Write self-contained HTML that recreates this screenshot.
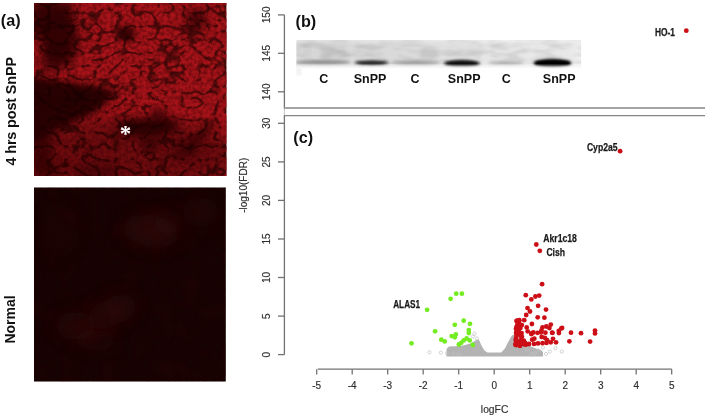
<!DOCTYPE html>
<html lang="en"><head><meta charset="utf-8"><title>Figure</title>
<style>html,body{margin:0;padding:0;background:#fff}body{width:709px;height:416px;overflow:hidden}svg{display:block}</style>
</head><body>
<svg width="709" height="416" viewBox="0 0 709 416">
<defs>
<filter id="tex" x="0" y="0" width="100%" height="100%" color-interpolation-filters="sRGB">
  <feTurbulence type="turbulence" baseFrequency="0.06 0.075" numOctaves="2" seed="11" result="n"/>
  <feColorMatrix in="n" type="matrix" values="0 0 0 0 0  0 0 0 0 0  0 0 0 0 0  7 0 0 0 -0.5" result="a"/>
  <feFlood flood-color="#a61419" result="f"/>
  <feComposite in="f" in2="a" operator="in" result="c"/>
  <feGaussianBlur in="c" stdDeviation="0.5"/>
</filter>
<filter id="tex2" x="0" y="0" width="100%" height="100%" color-interpolation-filters="sRGB">
  <feTurbulence type="fractalNoise" baseFrequency="0.05" numOctaves="2" seed="4" result="n"/>
  <feColorMatrix in="n" type="matrix" values="0 0 0 0 0  0 0 0 0 0  0 0 0 0 0  3 0 0 0 -1.35" result="a"/>
  <feFlood flood-color="#3c0a0a" result="f"/>
  <feComposite in="f" in2="a" operator="in"/>
</filter>
<filter id="grain" x="0" y="0" width="100%" height="100%" color-interpolation-filters="sRGB">
  <feTurbulence type="fractalNoise" baseFrequency="0.28" numOctaves="2" seed="8" result="n"/>
  <feColorMatrix in="n" type="matrix" values="0 0 0 0 0.12  0 0 0 0 0.01  0 0 0 0 0.01  2.6 0 0 0 -0.95"/>
</filter>
<filter id="gn" x="0" y="0" width="100%" height="100%" color-interpolation-filters="sRGB">
  <feTurbulence type="fractalNoise" baseFrequency="0.05 0.14" numOctaves="2" seed="3" result="n"/>
  <feColorMatrix in="n" type="matrix" values="0 0 0 0 0  0 0 0 0 0  0 0 0 0 0  2.4 0 0 0 -0.9"/>
</filter>
<filter id="b3" x="-60%" y="-60%" width="220%" height="220%"><feGaussianBlur stdDeviation="3"/></filter>
<filter id="b5" x="-80%" y="-80%" width="260%" height="260%"><feGaussianBlur stdDeviation="5"/></filter>
<filter id="b8" x="-80%" y="-80%" width="260%" height="260%"><feGaussianBlur stdDeviation="8"/></filter>
<filter id="b1" x="-20%" y="-50%" width="140%" height="200%"><feGaussianBlur stdDeviation="1.1"/></filter>
<filter id="b2" x="-20%" y="-50%" width="140%" height="200%"><feGaussianBlur stdDeviation="1.8"/></filter>
<filter id="soft" x="-10%" y="-10%" width="120%" height="120%"><feGaussianBlur stdDeviation="0.35"/></filter>
<clipPath id="ca"><rect x="34" y="3" width="192.4" height="173"/></clipPath>
<clipPath id="cb"><rect x="34" y="187.4" width="191.8" height="194.1"/></clipPath>
<clipPath id="cg"><rect x="296.2" y="40" width="285" height="28.2"/></clipPath>
<linearGradient id="gelbg" x1="0" x2="1" y1="0" y2="0">
 <stop offset="0" stop-color="#dedede"/><stop offset="0.35" stop-color="#e2e2e2"/><stop offset="0.7" stop-color="#e9e9e9"/><stop offset="1" stop-color="#eeeeee"/>
</linearGradient>
<linearGradient id="gelfade" x1="0" x2="0" y1="0" y2="1">
 <stop offset="0" stop-color="#fff" stop-opacity="0.25"/><stop offset="0.25" stop-color="#fff" stop-opacity="0"/><stop offset="0.84" stop-color="#fff" stop-opacity="0"/><stop offset="1" stop-color="#fff" stop-opacity="0.85"/>
</linearGradient>
</defs>
<g clip-path="url(#ca)">
<rect x="34" y="3" width="193" height="173" fill="#500a0b"/>
<rect x="34" y="3" width="193" height="173" filter="url(#tex)"/>
<rect x="34" y="3" width="193" height="173" filter="url(#grain)" opacity="0.4"/>
<ellipse cx="130" cy="155" rx="110" ry="36" transform="rotate(0 130 155)" fill="#230304" opacity="0.45" filter="url(#b8)"/>
<ellipse cx="48" cy="60" rx="10" ry="14" transform="rotate(0 48 60)" fill="#230304" opacity="0.5" filter="url(#b5)"/>
<ellipse cx="42" cy="150" rx="10" ry="26" transform="rotate(0 42 150)" fill="#230304" opacity="0.75" filter="url(#b5)"/>
<ellipse cx="47" cy="172" rx="16" ry="9" transform="rotate(0 47 172)" fill="#230304" opacity="0.5" filter="url(#b5)"/>
<ellipse cx="127.5" cy="34" rx="8" ry="8" transform="rotate(0 127.5 34)" fill="#230304" opacity="0.9" filter="url(#b3)"/>
<ellipse cx="196" cy="19" rx="11" ry="10" transform="rotate(0 196 19)" fill="#230304" opacity="0.75" filter="url(#b5)"/>
<ellipse cx="148" cy="127" rx="32" ry="8" transform="rotate(-3 148 127)" fill="#230304" opacity="1" filter="url(#b5)"/>
<ellipse cx="152" cy="128" rx="22" ry="5" transform="rotate(-3 152 128)" fill="#230304" opacity="0.8" filter="url(#b3)"/>
<ellipse cx="159" cy="115" rx="8" ry="7" transform="rotate(0 159 115)" fill="#230304" opacity="0.6" filter="url(#b3)"/>
<ellipse cx="150" cy="144" rx="10" ry="8" transform="rotate(0 150 144)" fill="#230304" opacity="0.6" filter="url(#b3)"/>
<ellipse cx="198" cy="138" rx="26" ry="3.2" transform="rotate(-44 198 138)" fill="#230304" opacity="0.9" filter="url(#b3)"/>
<ellipse cx="96" cy="172" rx="24" ry="8" transform="rotate(0 96 172)" fill="#230304" opacity="0.5" filter="url(#b5)"/>
<ellipse cx="185" cy="152" rx="16" ry="9" transform="rotate(0 185 152)" fill="#230304" opacity="0.4" filter="url(#b5)"/>
<path d="M30 76 L60 81 L96 86 L119 92 L96 112 L64 127 L30 146 Z" fill="#1c0303" opacity="0.96" filter="url(#b3)"/>
<path d="M30 84 L70 90 L100 94 L80 108 L50 120 L30 130 Z" fill="#1c0303" opacity="0.6" filter="url(#b3)"/>
<path d="M30 0 L70 0 L79 36 L74 62 L52 70 L40 40 L30 30 Z" fill="#1c0303" opacity="0.85" filter="url(#b5)"/>
<ellipse cx="59" cy="23" rx="9" ry="8" fill="#1c0303" opacity="0.6" filter="url(#b3)"/>
<ellipse cx="55" cy="47" rx="9" ry="7" fill="#1c0303" opacity="0.6" filter="url(#b3)"/>
<rect x="34" y="3" width="193" height="173" filter="url(#tex)" opacity="0.08"/>
</g>
<text x="125.6" y="140.9" font-family="DejaVu Sans, "Liberation Sans", Arial, sans-serif" font-weight="bold" font-size="23" fill="#fff" text-anchor="middle">*</text>
<g clip-path="url(#cb)">
<rect x="34" y="187" width="192" height="195" fill="#170303"/>
<rect x="34" y="187" width="192" height="195" filter="url(#tex2)" opacity="0.18"/>
<rect x="34" y="187" width="192" height="195" filter="url(#grain)" opacity="0.25"/>
<ellipse cx="151" cy="231" rx="28" ry="16" transform="rotate(10 151 231)" fill="#3a0a0a" opacity="0.5" filter="url(#b8)"/>
<ellipse cx="168" cy="222" rx="14" ry="12" transform="rotate(0 168 222)" fill="#3a0a0a" opacity="0.3" filter="url(#b8)"/>
<ellipse cx="112" cy="312" rx="26" ry="14" transform="rotate(-25 112 312)" fill="#3a0a0a" opacity="0.45" filter="url(#b8)"/>
<ellipse cx="76" cy="326" rx="20" ry="14" transform="rotate(0 76 326)" fill="#3a0a0a" opacity="0.4" filter="url(#b8)"/>
<ellipse cx="95" cy="340" rx="22" ry="10" transform="rotate(0 95 340)" fill="#3a0a0a" opacity="0.3" filter="url(#b8)"/>
<ellipse cx="200" cy="212" rx="18" ry="14" transform="rotate(0 200 212)" fill="#3a0a0a" opacity="0.3" filter="url(#b8)"/>
<ellipse cx="60" cy="230" rx="18" ry="28" transform="rotate(0 60 230)" fill="#3a0a0a" opacity="0.15" filter="url(#b8)"/>
</g>
<text x="0.8" y="26.4" font-family='"Liberation Sans", Arial, sans-serif' font-weight="bold" font-size="16.2" fill="#111">(a)</text>
<text transform="translate(15.6 165.5) rotate(-90)" textLength="108.6" lengthAdjust="spacing" font-family='"Liberation Sans", Arial, sans-serif' font-weight="bold" font-size="14.4" fill="#111">4 hrs post SnPP</text>
<text transform="translate(15 343.6) rotate(-90)" font-family='"Liberation Sans", Arial, sans-serif' font-weight="bold" font-size="14" fill="#111">Normal</text>
<g stroke="#727272" stroke-width="1.3" fill="none">
<path d="M284.4 14.9V107.5"/>
<path d="M284.4 115.5V354.6"/>
<path d="M278 14.9H284.4"/>
<path d="M278 53.3H284.4"/>
<path d="M278 91.8H284.4"/>
<path d="M278 354.6H284.4"/>
<path d="M278 316.1H284.4"/>
<path d="M278 277.5H284.4"/>
<path d="M278 239.0H284.4"/>
<path d="M278 200.4H284.4"/>
<path d="M278 161.9H284.4"/>
<path d="M278 123.3H284.4"/>
<path d="M317.7 369.2H671.8"/>
<path d="M316.7 369.2V374.4"/>
<path d="M352.2 369.2V374.4"/>
<path d="M387.7 369.2V374.4"/>
<path d="M423.2 369.2V374.4"/>
<path d="M458.7 369.2V374.4"/>
<path d="M494.2 369.2V374.4"/>
<path d="M529.7 369.2V374.4"/>
<path d="M565.2 369.2V374.4"/>
<path d="M600.7 369.2V374.4"/>
<path d="M636.2 369.2V374.4"/>
<path d="M671.7 369.2V374.4"/>
</g>
<path d="M284.4 107.5V115.5" stroke="#c8c8c8" stroke-width="1.1"/>
<path d="M283.8 108H705" stroke="#858585" stroke-width="1.7"/>
<path d="M283.8 115.6H705" stroke="#858585" stroke-width="1.4"/>
<text transform="translate(270.1 14.9) rotate(-90)" text-anchor="middle" font-family='"Liberation Sans", Arial, sans-serif' font-size="10" fill="#2e2e2e" stroke="#2e2e2e" stroke-width="0.15">150</text>
<text transform="translate(270.1 53.3) rotate(-90)" text-anchor="middle" font-family='"Liberation Sans", Arial, sans-serif' font-size="10" fill="#2e2e2e" stroke="#2e2e2e" stroke-width="0.15">145</text>
<text transform="translate(270.1 91.8) rotate(-90)" text-anchor="middle" font-family='"Liberation Sans", Arial, sans-serif' font-size="10" fill="#2e2e2e" stroke="#2e2e2e" stroke-width="0.15">140</text>
<text transform="translate(270.1 354.6) rotate(-90)" text-anchor="middle" font-family='"Liberation Sans", Arial, sans-serif' font-size="10" fill="#2e2e2e" stroke="#2e2e2e" stroke-width="0.15">0</text>
<text transform="translate(270.1 316.1) rotate(-90)" text-anchor="middle" font-family='"Liberation Sans", Arial, sans-serif' font-size="10" fill="#2e2e2e" stroke="#2e2e2e" stroke-width="0.15">5</text>
<text transform="translate(270.1 277.5) rotate(-90)" text-anchor="middle" font-family='"Liberation Sans", Arial, sans-serif' font-size="10" fill="#2e2e2e" stroke="#2e2e2e" stroke-width="0.15">10</text>
<text transform="translate(270.1 239.0) rotate(-90)" text-anchor="middle" font-family='"Liberation Sans", Arial, sans-serif' font-size="10" fill="#2e2e2e" stroke="#2e2e2e" stroke-width="0.15">15</text>
<text transform="translate(270.1 200.4) rotate(-90)" text-anchor="middle" font-family='"Liberation Sans", Arial, sans-serif' font-size="10" fill="#2e2e2e" stroke="#2e2e2e" stroke-width="0.15">20</text>
<text transform="translate(270.1 161.9) rotate(-90)" text-anchor="middle" font-family='"Liberation Sans", Arial, sans-serif' font-size="10" fill="#2e2e2e" stroke="#2e2e2e" stroke-width="0.15">25</text>
<text transform="translate(270.1 123.3) rotate(-90)" text-anchor="middle" font-family='"Liberation Sans", Arial, sans-serif' font-size="10" fill="#2e2e2e" stroke="#2e2e2e" stroke-width="0.15">30</text>
<text x="316.7" y="389.3" text-anchor="middle" font-family='"Liberation Sans", Arial, sans-serif' font-size="10" fill="#2e2e2e" stroke="#2e2e2e" stroke-width="0.15">-5</text>
<text x="352.2" y="389.3" text-anchor="middle" font-family='"Liberation Sans", Arial, sans-serif' font-size="10" fill="#2e2e2e" stroke="#2e2e2e" stroke-width="0.15">-4</text>
<text x="387.7" y="389.3" text-anchor="middle" font-family='"Liberation Sans", Arial, sans-serif' font-size="10" fill="#2e2e2e" stroke="#2e2e2e" stroke-width="0.15">-3</text>
<text x="423.2" y="389.3" text-anchor="middle" font-family='"Liberation Sans", Arial, sans-serif' font-size="10" fill="#2e2e2e" stroke="#2e2e2e" stroke-width="0.15">-2</text>
<text x="458.7" y="389.3" text-anchor="middle" font-family='"Liberation Sans", Arial, sans-serif' font-size="10" fill="#2e2e2e" stroke="#2e2e2e" stroke-width="0.15">-1</text>
<text x="494.2" y="389.3" text-anchor="middle" font-family='"Liberation Sans", Arial, sans-serif' font-size="10" fill="#2e2e2e" stroke="#2e2e2e" stroke-width="0.15">0</text>
<text x="529.7" y="389.3" text-anchor="middle" font-family='"Liberation Sans", Arial, sans-serif' font-size="10" fill="#2e2e2e" stroke="#2e2e2e" stroke-width="0.15">1</text>
<text x="565.2" y="389.3" text-anchor="middle" font-family='"Liberation Sans", Arial, sans-serif' font-size="10" fill="#2e2e2e" stroke="#2e2e2e" stroke-width="0.15">2</text>
<text x="600.7" y="389.3" text-anchor="middle" font-family='"Liberation Sans", Arial, sans-serif' font-size="10" fill="#2e2e2e" stroke="#2e2e2e" stroke-width="0.15">3</text>
<text x="636.2" y="389.3" text-anchor="middle" font-family='"Liberation Sans", Arial, sans-serif' font-size="10" fill="#2e2e2e" stroke="#2e2e2e" stroke-width="0.15">4</text>
<text x="671.7" y="389.3" text-anchor="middle" font-family='"Liberation Sans", Arial, sans-serif' font-size="10" fill="#2e2e2e" stroke="#2e2e2e" stroke-width="0.15">5</text>
<text x="494.6" y="412.6" text-anchor="middle" font-family='"Liberation Sans", Arial, sans-serif' font-size="10.3" fill="#2e2e2e" stroke="#2e2e2e" stroke-width="0.15">logFC</text>
<text transform="translate(246.8 185.3) rotate(-90)" text-anchor="middle" font-family='"Liberation Sans", Arial, sans-serif' font-size="10" fill="#2e2e2e" stroke="#2e2e2e" stroke-width="0.15">-log10(FDR)</text>
<text x="295.5" y="26.6" font-family='"Liberation Sans", Arial, sans-serif' font-weight="bold" font-size="16.2" fill="#111">(b)</text>
<text x="293.3" y="142.5" font-family='"Liberation Sans", Arial, sans-serif' font-weight="bold" font-size="16.2" fill="#111">(c)</text>
<g clip-path="url(#cg)">
<rect x="296.2" y="40" width="285" height="28.2" fill="url(#gelbg)"/>
<rect x="300" y="40" width="14" height="22" fill="#000" opacity="0.06" filter="url(#b3)"/>
<rect x="318" y="40" width="30" height="22" fill="#000" opacity="0.07" filter="url(#b3)"/>
<rect x="352" y="40" width="40" height="22" fill="#000" opacity="0.03" filter="url(#b3)"/>
<rect x="392" y="40" width="46" height="22" fill="#000" opacity="0.04" filter="url(#b3)"/>
<rect x="442" y="40" width="42" height="22" fill="#000" opacity="0.03" filter="url(#b3)"/>
<rect x="488" y="40" width="40" height="22" fill="#000" opacity="0.025" filter="url(#b3)"/>
<rect x="532" y="40" width="44" height="22" fill="#000" opacity="0.02" filter="url(#b3)"/>
<rect x="296.2" y="40" width="285" height="24" filter="url(#gn)" opacity="0.09"/>
<ellipse cx="323" cy="62.2" rx="28" ry="2" fill="#777" opacity="0.8" filter="url(#b2)"/>
<ellipse cx="416" cy="62.6" rx="24" ry="2" fill="#808080" opacity="0.7" filter="url(#b2)"/>
<ellipse cx="506" cy="62.8" rx="18" ry="2" fill="#909090" opacity="0.6" filter="url(#b2)"/>
<ellipse cx="371.5" cy="62.8" rx="17" ry="2.4" fill="#222" opacity="0.95" filter="url(#b2)"/>
<ellipse cx="371.5" cy="62.8" rx="13" ry="1.6" fill="#222" opacity="0.6" filter="url(#b1)"/>
<ellipse cx="462" cy="63.4" rx="18" ry="3.2" fill="#111" opacity="1" filter="url(#b2)"/>
<ellipse cx="462" cy="63.4" rx="15" ry="2.4" fill="#111" opacity="0.7" filter="url(#b1)"/>
<ellipse cx="552.5" cy="63.2" rx="19" ry="4" fill="#050505" opacity="1" filter="url(#b2)"/>
<ellipse cx="552.5" cy="63.2" rx="17" ry="3" fill="#050505" opacity="0.9" filter="url(#b1)"/>
<rect x="296.2" y="40" width="285" height="28.2" fill="url(#gelfade)"/>
</g>
<rect x="296.4" y="68" width="5" height="7.5" fill="#f4f4f4"/>
<text x="323.8" y="83" text-anchor="middle" font-family='"Liberation Sans", Arial, sans-serif' font-weight="bold" font-size="12.5" fill="#111">C</text>
<text x="370" y="83" text-anchor="middle" font-family='"Liberation Sans", Arial, sans-serif' font-weight="bold" font-size="12.5" fill="#111">SnPP</text>
<text x="415" y="83" text-anchor="middle" font-family='"Liberation Sans", Arial, sans-serif' font-weight="bold" font-size="12.5" fill="#111">C</text>
<text x="464.2" y="83" text-anchor="middle" font-family='"Liberation Sans", Arial, sans-serif' font-weight="bold" font-size="12.5" fill="#111">SnPP</text>
<text x="506.2" y="83" text-anchor="middle" font-family='"Liberation Sans", Arial, sans-serif' font-weight="bold" font-size="12.5" fill="#111">C</text>
<text x="559.2" y="83" text-anchor="middle" font-family='"Liberation Sans", Arial, sans-serif' font-weight="bold" font-size="12.5" fill="#111">SnPP</text>
<path d="M446.5 356.5 L446.5 349 L449 346.5 L455.5 346.2 L463.3 345.4 L471 343.2 L475.5 340.6 L478 339.3 L479.6 341 L481.1 344.8 L484.2 350.3 L487.3 352.6 L501.3 352.6 L505.2 347.9 L508.3 341.7 L511.4 336.3 L513 334.7 L516 336 L522 342 L530 346 L536 348.5 L541 350 L543 352 L543 356.5 Z" fill="#b3b3b3" filter="url(#soft)"/>
<circle cx="429.5" cy="352.3" r="1.6" fill="none" stroke="#c2c2c2" stroke-width="0.7"/>
<circle cx="440.8" cy="352.7" r="1.6" fill="none" stroke="#c2c2c2" stroke-width="0.7"/>
<circle cx="447" cy="353.4" r="1.6" fill="none" stroke="#c2c2c2" stroke-width="0.7"/>
<circle cx="453.5" cy="353.8" r="1.6" fill="none" stroke="#c2c2c2" stroke-width="0.7"/>
<circle cx="458.5" cy="354.3" r="1.6" fill="none" stroke="#c2c2c2" stroke-width="0.7"/>
<circle cx="474.5" cy="333.7" r="1.6" fill="none" stroke="#c2c2c2" stroke-width="0.7"/>
<circle cx="473" cy="336.5" r="1.6" fill="none" stroke="#c2c2c2" stroke-width="0.7"/>
<circle cx="477" cy="338.5" r="1.6" fill="none" stroke="#c2c2c2" stroke-width="0.7"/>
<circle cx="543" cy="347.5" r="1.6" fill="none" stroke="#c2c2c2" stroke-width="0.7"/>
<circle cx="549.8" cy="351.6" r="1.6" fill="none" stroke="#c2c2c2" stroke-width="0.7"/>
<circle cx="555.4" cy="348.2" r="1.6" fill="none" stroke="#c2c2c2" stroke-width="0.7"/>
<circle cx="561.8" cy="351.6" r="1.6" fill="none" stroke="#c2c2c2" stroke-width="0.7"/>
<circle cx="535" cy="353.5" r="1.6" fill="none" stroke="#c2c2c2" stroke-width="0.7"/>
<circle cx="531.5" cy="354.5" r="1.6" fill="none" stroke="#c2c2c2" stroke-width="0.7"/>
<circle cx="538.5" cy="350.5" r="1.6" fill="none" stroke="#c2c2c2" stroke-width="0.7"/>
<circle cx="546" cy="354" r="1.6" fill="none" stroke="#c2c2c2" stroke-width="0.7"/>
<circle cx="527" cy="349.5" r="1.6" fill="none" stroke="#c2c2c2" stroke-width="0.7"/>
<circle cx="411.5" cy="343.3" r="2.4" fill="#74ec22"/>
<circle cx="427.1" cy="309.8" r="2.4" fill="#74ec22"/>
<circle cx="435.1" cy="331.3" r="2.4" fill="#74ec22"/>
<circle cx="441.3" cy="339.7" r="2.4" fill="#74ec22"/>
<circle cx="444.7" cy="341.4" r="2.4" fill="#74ec22"/>
<circle cx="450.6" cy="298.8" r="2.4" fill="#74ec22"/>
<circle cx="456.2" cy="293.7" r="2.4" fill="#74ec22"/>
<circle cx="461.9" cy="293.7" r="2.4" fill="#74ec22"/>
<circle cx="454.8" cy="324.8" r="2.4" fill="#74ec22"/>
<circle cx="463.7" cy="320.7" r="2.4" fill="#74ec22"/>
<circle cx="470" cy="323.8" r="2.4" fill="#74ec22"/>
<circle cx="468.8" cy="330.1" r="2.4" fill="#74ec22"/>
<circle cx="468.8" cy="333" r="2.4" fill="#74ec22"/>
<circle cx="455.8" cy="334.4" r="2.4" fill="#74ec22"/>
<circle cx="451.7" cy="336.1" r="2.4" fill="#74ec22"/>
<circle cx="454.8" cy="337.3" r="2.4" fill="#74ec22"/>
<circle cx="466.6" cy="338.5" r="2.4" fill="#74ec22"/>
<circle cx="463.7" cy="340.4" r="2.4" fill="#74ec22"/>
<circle cx="469.7" cy="340.4" r="2.4" fill="#74ec22"/>
<circle cx="461.3" cy="342.8" r="2.4" fill="#74ec22"/>
<circle cx="458.9" cy="344.5" r="2.4" fill="#74ec22"/>
<circle cx="472.8" cy="345" r="2.4" fill="#74ec22"/>
<circle cx="542.1" cy="284.2" r="2.4" fill="#cc0f16"/>
<circle cx="525.8" cy="295.2" r="2.4" fill="#cc0f16"/>
<circle cx="531.3" cy="299.4" r="2.4" fill="#cc0f16"/>
<circle cx="535.4" cy="296.5" r="2.4" fill="#cc0f16"/>
<circle cx="539.2" cy="295.6" r="2.4" fill="#cc0f16"/>
<circle cx="538.1" cy="305.8" r="2.4" fill="#cc0f16"/>
<circle cx="527.5" cy="308.1" r="2.4" fill="#cc0f16"/>
<circle cx="546" cy="309.6" r="2.4" fill="#cc0f16"/>
<circle cx="530" cy="311.5" r="2.4" fill="#cc0f16"/>
<circle cx="526.2" cy="315" r="2.4" fill="#cc0f16"/>
<circle cx="537.7" cy="317.3" r="2.4" fill="#cc0f16"/>
<circle cx="544.4" cy="317.7" r="2.4" fill="#cc0f16"/>
<circle cx="519.4" cy="320.2" r="2.4" fill="#cc0f16"/>
<circle cx="524.2" cy="320.2" r="2.4" fill="#cc0f16"/>
<circle cx="531.9" cy="324" r="2.4" fill="#cc0f16"/>
<circle cx="550.8" cy="324.6" r="2.4" fill="#cc0f16"/>
<circle cx="546.3" cy="326.5" r="2.4" fill="#cc0f16"/>
<circle cx="542.5" cy="327.3" r="2.4" fill="#cc0f16"/>
<circle cx="562.1" cy="327.9" r="2.4" fill="#cc0f16"/>
<circle cx="558.8" cy="330.8" r="2.4" fill="#cc0f16"/>
<circle cx="571" cy="332.7" r="2.4" fill="#cc0f16"/>
<circle cx="552.1" cy="332.7" r="2.4" fill="#cc0f16"/>
<circle cx="545.4" cy="332.7" r="2.4" fill="#cc0f16"/>
<circle cx="569.4" cy="341.3" r="2.4" fill="#cc0f16"/>
<circle cx="556" cy="342.3" r="2.4" fill="#cc0f16"/>
<circle cx="550.8" cy="342.3" r="2.4" fill="#cc0f16"/>
<circle cx="581" cy="333.2" r="2.4" fill="#cc0f16"/>
<circle cx="595" cy="330.6" r="2.4" fill="#cc0f16"/>
<circle cx="595" cy="333.4" r="2.4" fill="#cc0f16"/>
<circle cx="590.1" cy="341.6" r="2.4" fill="#cc0f16"/>
<circle cx="561.3" cy="328.4" r="2.4" fill="#cc0f16"/>
<circle cx="558.9" cy="333" r="2.4" fill="#cc0f16"/>
<circle cx="536.3" cy="244.5" r="2.4" fill="#cc0f16"/>
<circle cx="539.8" cy="250.8" r="2.4" fill="#cc0f16"/>
<circle cx="620.1" cy="151.2" r="2.4" fill="#cc0f16"/>
<circle cx="686.3" cy="30.7" r="2.4" fill="#cc0f16"/>
<circle cx="523.8" cy="340.7" r="2.4" fill="#cc0f16"/>
<circle cx="523.5" cy="344.1" r="2.4" fill="#cc0f16"/>
<circle cx="516.5" cy="321.0" r="2.4" fill="#cc0f16"/>
<circle cx="531.3" cy="334.0" r="2.4" fill="#cc0f16"/>
<circle cx="525.0" cy="343.2" r="2.4" fill="#cc0f16"/>
<circle cx="519.0" cy="323.7" r="2.4" fill="#cc0f16"/>
<circle cx="520.7" cy="334.5" r="2.4" fill="#cc0f16"/>
<circle cx="516.5" cy="334.7" r="2.4" fill="#cc0f16"/>
<circle cx="520.4" cy="328.0" r="2.4" fill="#cc0f16"/>
<circle cx="515.9" cy="343.4" r="2.4" fill="#cc0f16"/>
<circle cx="515.9" cy="340.3" r="2.4" fill="#cc0f16"/>
<circle cx="519.6" cy="324.4" r="2.4" fill="#cc0f16"/>
<circle cx="518.2" cy="320.7" r="2.4" fill="#cc0f16"/>
<circle cx="518.0" cy="342.3" r="2.4" fill="#cc0f16"/>
<circle cx="516.7" cy="345.1" r="2.4" fill="#cc0f16"/>
<circle cx="520.2" cy="342.4" r="2.4" fill="#cc0f16"/>
<circle cx="519.9" cy="334.3" r="2.4" fill="#cc0f16"/>
<circle cx="526.7" cy="327.4" r="2.4" fill="#cc0f16"/>
<circle cx="525.5" cy="344.7" r="2.4" fill="#cc0f16"/>
<circle cx="519.4" cy="342.9" r="2.4" fill="#cc0f16"/>
<circle cx="517.5" cy="324.6" r="2.4" fill="#cc0f16"/>
<circle cx="521.8" cy="325.1" r="2.4" fill="#cc0f16"/>
<circle cx="520.9" cy="335.9" r="2.4" fill="#cc0f16"/>
<circle cx="517.9" cy="320.7" r="2.4" fill="#cc0f16"/>
<circle cx="518.3" cy="328.4" r="2.4" fill="#cc0f16"/>
<circle cx="521.2" cy="341.1" r="2.4" fill="#cc0f16"/>
<circle cx="521.6" cy="333.1" r="2.4" fill="#cc0f16"/>
<circle cx="516.2" cy="338.0" r="2.4" fill="#cc0f16"/>
<circle cx="515.9" cy="339.1" r="2.4" fill="#cc0f16"/>
<circle cx="522.2" cy="341.8" r="2.4" fill="#cc0f16"/>
<circle cx="527.7" cy="331.3" r="2.4" fill="#cc0f16"/>
<circle cx="516.9" cy="334.9" r="2.4" fill="#cc0f16"/>
<circle cx="517.7" cy="325.1" r="2.4" fill="#cc0f16"/>
<circle cx="515.6" cy="344.4" r="2.4" fill="#cc0f16"/>
<circle cx="519.4" cy="343.8" r="2.4" fill="#cc0f16"/>
<circle cx="526.6" cy="344.2" r="2.4" fill="#cc0f16"/>
<circle cx="519.2" cy="333.8" r="2.4" fill="#cc0f16"/>
<circle cx="520.9" cy="340.1" r="2.4" fill="#cc0f16"/>
<circle cx="516.2" cy="341.0" r="2.4" fill="#cc0f16"/>
<circle cx="520.7" cy="343.2" r="2.4" fill="#cc0f16"/>
<circle cx="515.7" cy="344.9" r="2.4" fill="#cc0f16"/>
<circle cx="516.1" cy="332.8" r="2.4" fill="#cc0f16"/>
<circle cx="519.5" cy="344.4" r="2.4" fill="#cc0f16"/>
<circle cx="517.7" cy="344.5" r="2.4" fill="#cc0f16"/>
<circle cx="519.0" cy="332.2" r="2.4" fill="#cc0f16"/>
<circle cx="517.6" cy="329.5" r="2.4" fill="#cc0f16"/>
<circle cx="516.0" cy="329.0" r="2.4" fill="#cc0f16"/>
<circle cx="520.0" cy="345.9" r="2.4" fill="#cc0f16"/>
<circle cx="516.5" cy="327.0" r="2.4" fill="#cc0f16"/>
<circle cx="521.9" cy="336.7" r="2.4" fill="#cc0f16"/>
<circle cx="518.1" cy="330.7" r="2.4" fill="#cc0f16"/>
<circle cx="519.4" cy="342.5" r="2.4" fill="#cc0f16"/>
<circle cx="541.0" cy="332.3" r="2.4" fill="#cc0f16"/>
<circle cx="532.2" cy="339.7" r="2.4" fill="#cc0f16"/>
<circle cx="531.7" cy="333.4" r="2.4" fill="#cc0f16"/>
<circle cx="549.4" cy="328.0" r="2.4" fill="#cc0f16"/>
<circle cx="547.1" cy="340.2" r="2.4" fill="#cc0f16"/>
<circle cx="544.9" cy="337.8" r="2.4" fill="#cc0f16"/>
<circle cx="533.3" cy="332.5" r="2.4" fill="#cc0f16"/>
<circle cx="534.3" cy="338.7" r="2.4" fill="#cc0f16"/>
<circle cx="537.5" cy="332.8" r="2.4" fill="#cc0f16"/>
<circle cx="553.0" cy="338.8" r="2.4" fill="#cc0f16"/>
<circle cx="552.5" cy="332.8" r="2.4" fill="#cc0f16"/>
<circle cx="541.7" cy="336.9" r="2.4" fill="#cc0f16"/>
<circle cx="541.5" cy="330.4" r="2.4" fill="#cc0f16"/>
<circle cx="517" cy="343.0460630643589" r="2.4" fill="#cc0f16"/>
<circle cx="521" cy="342.63441018000316" r="2.4" fill="#cc0f16"/>
<circle cx="525" cy="343.0032011964566" r="2.4" fill="#cc0f16"/>
<circle cx="529" cy="343.98142032065095" r="2.4" fill="#cc0f16"/>
<circle cx="534" cy="343.93570541357275" r="2.4" fill="#cc0f16"/>
<circle cx="538" cy="343.4031439535277" r="2.4" fill="#cc0f16"/>
<circle cx="542.5" cy="343.1989159210658" r="2.4" fill="#cc0f16"/>
<circle cx="546.5" cy="342.94156601643704" r="2.4" fill="#cc0f16"/>
<text x="654.9" y="35.6" textLength="20" lengthAdjust="spacingAndGlyphs" font-family='"Liberation Sans", Arial, sans-serif' font-weight="bold" font-size="10.2" fill="#1a1a1a" stroke="#1a1a1a" stroke-width="0.25">HO-1</text>
<text x="586.9" y="151.2" textLength="30.7" lengthAdjust="spacingAndGlyphs" font-family='"Liberation Sans", Arial, sans-serif' font-weight="bold" font-size="10.2" fill="#1a1a1a" stroke="#1a1a1a" stroke-width="0.25">Cyp2a5</text>
<text x="543.3" y="242.1" textLength="33.6" lengthAdjust="spacingAndGlyphs" font-family='"Liberation Sans", Arial, sans-serif' font-weight="bold" font-size="10.2" fill="#1a1a1a" stroke="#1a1a1a" stroke-width="0.25">Akr1c18</text>
<text x="546.4" y="255.5" textLength="18.6" lengthAdjust="spacingAndGlyphs" font-family='"Liberation Sans", Arial, sans-serif' font-weight="bold" font-size="10.2" fill="#1a1a1a" stroke="#1a1a1a" stroke-width="0.25">Cish</text>
<text x="393.2" y="307.8" textLength="26.9" lengthAdjust="spacingAndGlyphs" font-family='"Liberation Sans", Arial, sans-serif' font-weight="bold" font-size="10.2" fill="#1a1a1a" stroke="#1a1a1a" stroke-width="0.25">ALAS1</text>
</svg>
</body></html>
